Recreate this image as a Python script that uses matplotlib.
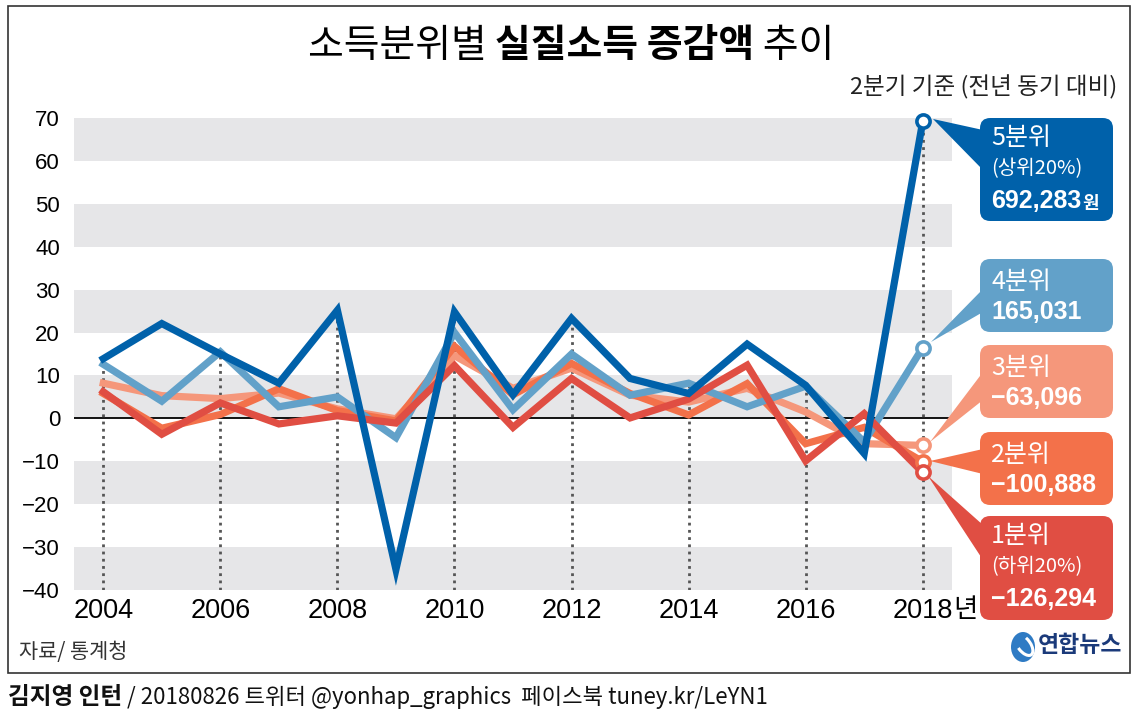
import matplotlib
matplotlib.use("Agg")
import matplotlib.pyplot as plt
from matplotlib import font_manager
from matplotlib.patches import FancyBboxPatch, Polygon, Rectangle, Ellipse, Arc

names = {f.name for f in font_manager.fontManager.ttflist}
NARROW = 'Liberation Sans Narrow' if 'Liberation Sans Narrow' in names else 'Liberation Sans'
KR = 'Noto Sans CJK KR'
plt.rcParams['font.family'] = [KR, 'DejaVu Sans']

# ---------------- data (10,000 won) ----------------
years = list(range(2004, 2019))
q5 = [13.9, 22.1, 15.0, 8.2, 25.2, -35.2, 24.8, 5.5, 23.3, 9.3, 5.8, 17.3, 7.7, -8.2, 69.2]
q4 = [12.6, 4.0, 15.5, 2.7, 5.0, -4.5, 20.0, 2.0, 15.0, 5.4, 8.2, 2.7, 7.5, -5.5, 16.5]
q3 = [8.2, 5.3, 4.6, 5.9, 2.2, -0.1, 14.6, 7.0, 11.7, 5.4, 3.8, 7.0, 1.5, -5.9, -6.3]
q2 = [5.8, -2.3, 0.9, 6.9, 1.8, -0.6, 16.8, 5.5, 12.8, 5.8, 0.8, 8.1, -5.9, -2.1, -10.1]
q1 = [6.2, -3.7, 3.6, -1.3, 0.6, -1.1, 12.3, -2.1, 9.3, 0.1, 4.5, 12.4, -9.9, 1.1, -12.6]

yticks = [70, 60, 50, 40, 30, 20, 10, 0, -10, -20, -30, -40]
ytick_labels = ['70', '60', '50', '40', '30', '20', '10', '0', '−10', '−20', '−30', '−40']
xticks = [2004, 2006, 2008, 2010, 2012, 2014, 2016, 2018]
xtick_labels = ['2004', '2006', '2008', '2010', '2012', '2014', '2016', '2018']
bands = [(60, 70), (40, 50), (20, 30), (0, 10), (-20, -10), (-40, -30)]

C5, C4, C3, C2, C1 = '#0061AA', '#62A1C9', '#F5977B', '#F3714A', '#E04E43'

labels = [
    # (color, lines, box top, box bottom, wedge tip, wedge base)
    (C5, ['5분위', '(상위20%)', '692,283'], 118, 221, (933, 119), (130, 170)),
    (C4, ['4분위', '165,031'], 259, 332, (931, 342), (289, 312)),
    (C3, ['3분위', '−63,096'], 345, 418, (930, 442), (372, 400)),
    (C2, ['2분위', '−100,888'], 432, 505, (930, 461), (449, 474)),
    (C1, ['1분위', '(하위20%)', '−126,294'], 516, 620, (928, 476), (525, 560)),
]

W, H = 1138, 718
fig = plt.figure(figsize=(W / 100, H / 100), dpi=100)
fig.patch.set_facecolor('white')

def fx(x):
    return x / W

def fy(y):
    return 1 - y / H

ax = fig.add_axes([fx(74), fy(590), (952 - 74) / W, (590 - 118) / H])
ax.set_xlim(2003.5, 2018.5)
ax.set_ylim(-40, 70)
for s in ax.spines.values():
    s.set_visible(False)

for lo, hi in bands:
    ax.axhspan(lo, hi, color='#E6E6E8', lw=0, zorder=0)
ax.axhline(0, color='black', lw=1.3, zorder=1)

allv = [q5, q4, q3, q2, q1]
for yr in xticks:
    i = years.index(yr)
    top = max(s[i] for s in allv)
    ax.plot([yr, yr], [-40, top], color='#555555', lw=2.0, ls=(0, (1, 1.6)), zorder=2)

order = [(q3, C3), (q2, C2), (q4, C4), (q1, C1), (q5, C5)]
for z, (s, c) in enumerate(order):
    ax.plot(years, s, color=c, lw=5.2, solid_joinstyle='miter', zorder=3 + z, clip_on=False)
for z, (s, c) in enumerate(order):
    ax.plot(years[-1], s[-1], marker='o', ms=9.5, mfc='white', mec=c, mew=2.6,
            zorder=10 + z, clip_on=False)

ax.set_yticks(yticks)
ax.set_yticklabels(ytick_labels, family=NARROW, fontsize=16)
ax.set_xticks(xticks)
ax.set_xticklabels(xtick_labels, family=NARROW, fontsize=19.5)
ax.tick_params(axis='y', length=0, pad=10)
ax.tick_params(axis='x', length=0, pad=6)
last = ax.get_xticklabels()[-1]
ax.annotate('년', xy=(1, 0), xycoords=last, xytext=(0, 1), textcoords='offset points',
            ha='left', va='bottom', fontsize=19, family=[KR])

# frame
fig.patches.append(Rectangle((fx(8), fy(673)), (1130 - 8) / W, (673 - 6) / H, transform=fig.transFigure,
                             fill=False, ec='#333333', lw=1.2))

# title composed of light/bold parts
parts = [('소득분위별 ', 'normal'), ('실질소득 증감액', 'bold'), (' 추이', 'normal')]
texts = []
for t, w in parts:
    texts.append(fig.text(0, fy(46), t, fontsize=28, weight=w, family=[KR], va='center', ha='left'))
fig.canvas.draw()
r = fig.canvas.get_renderer()
widths = [tx.get_window_extent(r).width for tx in texts]
x0 = 571 - sum(widths) / 2
for tx, wdt in zip(texts, widths):
    tx.set_x(fx(x0))
    x0 += wdt

fig.text(fx(1117), fy(87), '2분기 기준 (전년 동기 대비)', fontsize=17, ha='right', va='center', color='#222222')
fig.text(fx(19), fy(652), '자료/ 통계청', fontsize=15, ha='left', va='center', color='#333333')

# callout boxes
for color, lines, top, bot, tip, base in labels:
    fig.patches.append(Polygon([(fx(tip[0]), fy(tip[1])), (fx(983), fy(base[0])), (fx(983), fy(base[1]))],
                               closed=True, transform=fig.transFigure, fc=color, ec='none'))
    fig.patches.append(FancyBboxPatch((fx(980), fy(bot)), (1113 - 980) / W, (bot - top) / H,
                                      boxstyle='round,pad=0,rounding_size=0.009',
                                      transform=fig.transFigure, fc=color, ec='none',
                                      mutation_aspect=W / H))
    n = len(lines)
    if n == 3:
        ys = [top + 20, top + 51, top + 83]
    else:
        ys = [top + 23, top + 53]
    for k, (t, yy) in enumerate(zip(lines, ys)):
        if k == 0:
            fig.text(fx(991), fy(yy), t, fontsize=18, color='white', ha='left', va='center',
                     family=[KR], weight='medium')
        elif t.startswith('('):
            fig.text(fx(991), fy(yy), t, fontsize=14.5, color='white', ha='left', va='center',
                     family=[KR], weight='light')
        else:
            tt = fig.text(fx(991), fy(yy), t, fontsize=18, color='white', ha='left', va='center',
                          family=[NARROW, 'DejaVu Sans'], weight='bold')
            if color == C5:
                fig.canvas.draw()
                ext = tt.get_window_extent(fig.canvas.get_renderer())
                fig.text(ext.x1 / W + 0.001, fy(yy + 2), '원', fontsize=13, color='white',
                         ha='left', va='center', family=[KR], weight='bold')

# logo
fig.patches.append(Ellipse((fx(1023), fy(647)), 24 / W, 30 / H, transform=fig.transFigure,
                           fc='#2F7BC4', ec='none'))
fig.patches.append(Arc((fx(1024), fy(645)), 14 / W, 22 / H, angle=20, theta1=200, theta2=420,
                       transform=fig.transFigure, color='white', lw=2.2))
fig.text(fx(1038), fy(646), '연합뉴스', fontsize=16.5, weight='bold', color='#1B3A7A',
         ha='left', va='center', family=[KR])

# footer
ft = fig.text(fx(8), fy(697), '김지영 인턴', fontsize=17, weight='bold', ha='left', va='center', color='#111111')
fig.canvas.draw()
e = ft.get_window_extent(fig.canvas.get_renderer())
fig.text(e.x1 / W, fy(697), ' / 20180826 트위터 @yonhap_graphics  페이스북 tuney.kr/LeYN1', fontsize=16,
         ha='left', va='center', color='#111111', family=[KR, 'DejaVu Sans'])

fig.savefig('out.png', dpi=100, facecolor='white')
